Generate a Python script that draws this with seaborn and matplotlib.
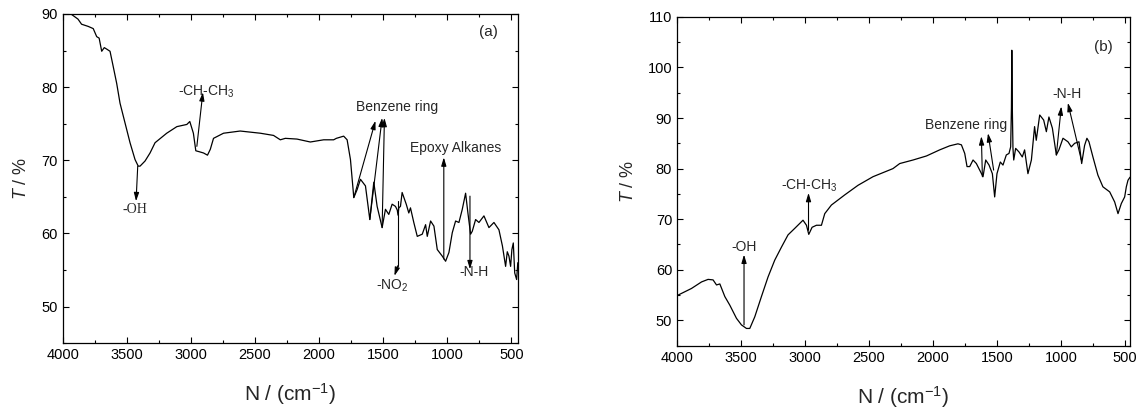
import numpy as np
import pandas as pd
from matplotlib import pyplot as plt
from matplotlib.ticker import MultipleLocator
import seaborn as sns


# ---- Data --------------------------------------------------------------------

wn_a = [4000, 3943, 3880, 3852, 3800, 3761, 3734, 3715, 3695, 3675, 3656, 3630,
        3605, 3578, 3552, 3513, 3474, 3435, 3410, 3396, 3357, 3318, 3279, 3188,
        3109, 3031, 3008, 2980, 2961, 2940, 2901, 2870, 2848, 2823, 2745, 2615,
        2458, 2355, 2302, 2263, 2172, 2068, 1964, 1886, 1865, 1808, 1781, 1755,
        1729, 1703, 1677, 1638, 1604, 1573, 1547, 1508, 1482, 1456, 1430, 1404,
        1390, 1384, 1378, 1365, 1352, 1320, 1300, 1287, 1261, 1234, 1195, 1169,
        1156, 1130, 1104, 1078, 1039, 1013, 987, 961, 935, 909, 883, 857, 839,
        818, 805, 779, 753, 714, 675, 636, 597, 570, 545, 532, 519, 506, 496,
        485, 474, 459, 450]
t_a = [91.0, 90.1, 89.3, 88.6, 88.3, 88.0, 86.9, 86.7, 84.9, 85.4, 85.2, 84.9,
       82.8, 80.5, 77.8, 75.1, 72.4, 70.1, 69.2, 69.2, 69.9, 71.0, 72.4, 73.7,
       74.6, 74.9, 75.3, 73.7, 71.3, 71.2, 71.0, 70.7, 71.5, 73.0, 73.7, 74.0,
       73.7, 73.4, 72.8, 73.0, 72.9, 72.5, 72.8, 72.8, 73.0, 73.3, 72.8, 70.1,
       64.9, 66.0, 67.4, 66.5, 61.9, 67.0, 63.7, 60.8, 63.3, 62.6, 64.0, 63.7,
       63.2, 62.5, 63.5, 63.7, 65.6, 64.0, 62.8, 63.5, 61.5, 59.6, 59.9, 61.2,
       59.6, 61.7, 61.0, 57.8, 56.9, 56.2, 57.4, 60.1, 61.7, 61.5, 63.3, 65.5,
       62.8, 59.9, 60.3, 61.9, 61.5, 62.4, 60.8, 61.5, 60.5, 58.3, 55.5, 57.5,
       56.9, 55.5, 57.8, 58.7, 54.6, 53.7, 56.0]

wn_b = [4000, 3992, 3888, 3809, 3758, 3719, 3692, 3666, 3627, 3588, 3536, 3497,
        3458, 3432, 3393, 3341, 3289, 3237, 3184, 3133, 3080, 3016, 2989, 2971,
        2945, 2911, 2872, 2846, 2794, 2690, 2586, 2469, 2391, 2352, 2313, 2260,
        2156, 2051, 1948, 1870, 1805, 1778, 1752, 1734, 1713, 1687, 1661, 1635,
        1609, 1588, 1562, 1536, 1518, 1500, 1474, 1453, 1427, 1406, 1393, 1387,
        1384, 1380, 1375, 1369, 1354, 1328, 1302, 1284, 1258, 1231, 1206, 1193,
        1166, 1135, 1114, 1094, 1067, 1036, 1016, 984, 945, 919, 893, 859, 838,
        815, 797, 781, 750, 711, 672, 619, 580, 554, 528, 502, 489, 476, 460]
t_b = [54.8, 55.0, 56.3, 57.6, 58.1, 58.0, 57.0, 57.2, 54.7, 53.0, 50.4, 49.1,
       48.4, 48.4, 50.7, 54.7, 58.6, 61.9, 64.5, 66.9, 68.2, 69.8, 68.8, 67.0,
       68.4, 68.8, 68.8, 71.1, 72.8, 74.8, 76.7, 78.4, 79.2, 79.6, 80.0, 81.0,
       81.7, 82.5, 83.7, 84.5, 84.9, 84.7, 83.0, 80.4, 80.4, 81.7, 81.0, 79.7,
       78.4, 81.7, 80.7, 79.0, 74.4, 79.0, 81.3, 80.7, 82.7, 83.0, 84.3, 92.0,
       103.4, 92.0, 84.0, 81.7, 84.0, 83.3, 82.3, 83.7, 79.0, 81.7, 88.3, 85.6,
       90.6, 89.6, 87.3, 90.2, 88.0, 82.7, 83.7, 86.0, 85.3, 84.3, 85.0, 85.3,
       81.0, 84.6, 86.0, 85.3, 82.3, 78.7, 76.4, 75.4, 73.4, 71.1, 73.1, 74.4,
       76.4, 77.7, 78.3]

df_a = pd.DataFrame({"wn": wn_a, "T": t_a})
df_b = pd.DataFrame({"wn": wn_b, "T": t_b})


# ---- Plotting ----------------------------------------------------------------

sns.set_style("ticks")
plt.rcParams["font.family"] = ["Liberation Sans", "DejaVu Sans"]
plt.rcParams["mathtext.fontset"] = "custom"
plt.rcParams["mathtext.rm"] = "Liberation Sans"
plt.rcParams["mathtext.it"] = "Liberation Sans:italic"

fig = plt.figure(figsize=(11.38, 4.11), dpi=100)
ax_a = fig.add_axes([0.055, 0.165, 0.400, 0.801])
ax_b = fig.add_axes([0.595, 0.159, 0.398, 0.800])

arrow = dict(arrowstyle="-|>,head_length=0.5,head_width=0.15", color="black",
             lw=0.8, shrinkA=0, shrinkB=0)


def style_axes(ax, xlim, ylim, yticks):
    ax.set_xlim(*xlim)
    ax.set_ylim(*ylim)
    ax.set_xticks([4000, 3500, 3000, 2500, 2000, 1500, 1000, 500])
    ax.set_yticks(yticks)
    ax.xaxis.set_minor_locator(MultipleLocator(250))
    ax.yaxis.set_minor_locator(MultipleLocator(5))
    ax.tick_params(which="both", direction="in", top=True, right=True,
                   labelsize=10.5, colors="black", width=0.8)
    ax.tick_params(which="major", length=4)
    ax.tick_params(which="minor", length=2.5)
    for sp in ax.spines.values():
        sp.set_linewidth(0.9)
        sp.set_color("black")
    ax.set_xlabel("N / (cm$^{-1}$)", fontsize=15, labelpad=14)
    ax.set_ylabel("$T$ / %", fontsize=13, labelpad=8)


def annotate(ax, text, start, end, tx=None, ty=None, **kw):
    ax.annotate("", xy=end, xytext=start, arrowprops=arrow)
    if text:
        ax.text(tx, ty, text, ha="center", va="center", fontsize=10, **kw)


# panel (a)
sns.lineplot(data=df_a, x="wn", y="T", ax=ax_a, color="black", lw=0.9,
             estimator=None)
style_axes(ax_a, (4000, 450), (45, 90), [50, 60, 70, 80, 90])

annotate(ax_a, "-OH", (3414, 69.2), (3427, 64.4), 3435, 63.3,
         family=["Liberation Serif", "DejaVu Serif"])
annotate(ax_a, "-CH-CH$_3$", (2953, 71.9), (2906, 79.3), 2880, 79.4)
annotate(ax_a, None, (1729, 64.9), (1560, 75.4))
annotate(ax_a, None, (1604, 61.9), (1508, 75.8))
annotate(ax_a, "Benzene ring", (1508, 60.8), (1490, 75.8), 1391, 77.3)
annotate(ax_a, "Epoxy Alkanes", (1027, 56.5), (1027, 70.4), 935, 71.7)
ax_a.plot([1385, 1385], [64.5, 55.6], color="black", lw=0.8)
annotate(ax_a, "-NO$_2$", (1385, 55.6), (1412, 54.2), 1430, 52.8)
annotate(ax_a, "-N-H", (823, 65.1), (823, 55.1), 795, 54.7)
ax_a.text(681, 87.5, "(a)", ha="center", va="center", fontsize=11)

# panel (b)
sns.lineplot(data=df_b, x="wn", y="T", ax=ax_b, color="black", lw=0.9,
             estimator=None)
style_axes(ax_b, (4000, 460), (45, 110), [50, 60, 70, 80, 90, 100, 110])

annotate(ax_b, "-OH", (3477, 49.1), (3477, 63.0), 3473, 64.6)
annotate(ax_b, "-CH-CH$_3$", (2973, 67.8), (2973, 75.2), 2965, 76.6)
annotate(ax_b, None, (1614, 78.4), (1622, 86.4))
annotate(ax_b, "Benzene ring", (1526, 79.7), (1570, 87.0), 1745, 88.6)
annotate(ax_b, None, (1036, 82.7), (997, 92.3))
annotate(ax_b, "-N-H", (841, 81.7), (946, 93.0), 952, 94.7)
ax_b.text(666, 104.1, "(b)", ha="center", va="center", fontsize=11)

fig.savefig("out.png", dpi=100)
